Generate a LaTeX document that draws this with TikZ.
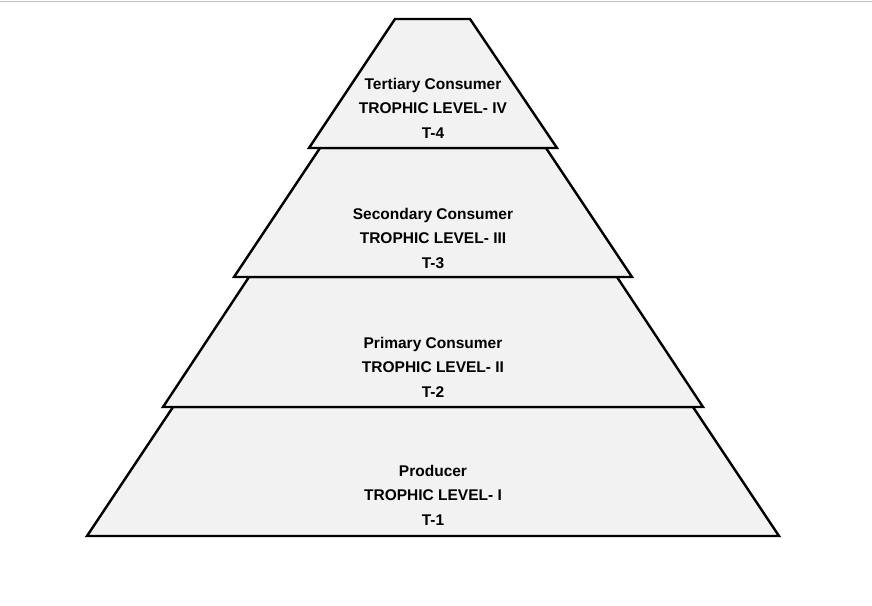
\documentclass[tikz,border=0pt]{standalone}
\usepackage{fontspec}
\setmainfont{Liberation Sans}
\begin{document}
\begin{tikzpicture}[x=1pt,y=-1pt,
  tier/.style={draw=black,fill=black!5,line width=2.4pt,line join=miter},
  lbl/.style={align=center,font=\fontsize{15.5}{24.5}\selectfont\bfseries,inner sep=0pt}]
\useasboundingbox (0,0) rectangle (872,605);
\draw[black!25,line width=1pt] (0,1) -- (872,1);
\draw[tier] (173,407) -- (693,407) -- (779,536) -- (87,536) -- cycle;
\draw[tier] (249,277) -- (617,277) -- (703,407) -- (163,407) -- cycle;
\draw[tier] (320,148) -- (546,148) -- (632,277) -- (234,277) -- cycle;
\draw[tier] (395,19) -- (470,19) -- (557,148) -- (309,148) -- cycle;
\node[lbl] (t4) at (433,108) {Tertiary Consumer\\TROPHIC LEVEL- IV\\T-4};
\node[lbl] (t3) at (433,238) {Secondary Consumer\\TROPHIC LEVEL- III\\T-3};
\node[lbl] (t2) at (433,367) {Primary Consumer\\TROPHIC LEVEL- II\\T-2};
\node[lbl] (t1) at (433,495) {Producer\\TROPHIC LEVEL- I\\T-1};
\end{tikzpicture}
\end{document}
